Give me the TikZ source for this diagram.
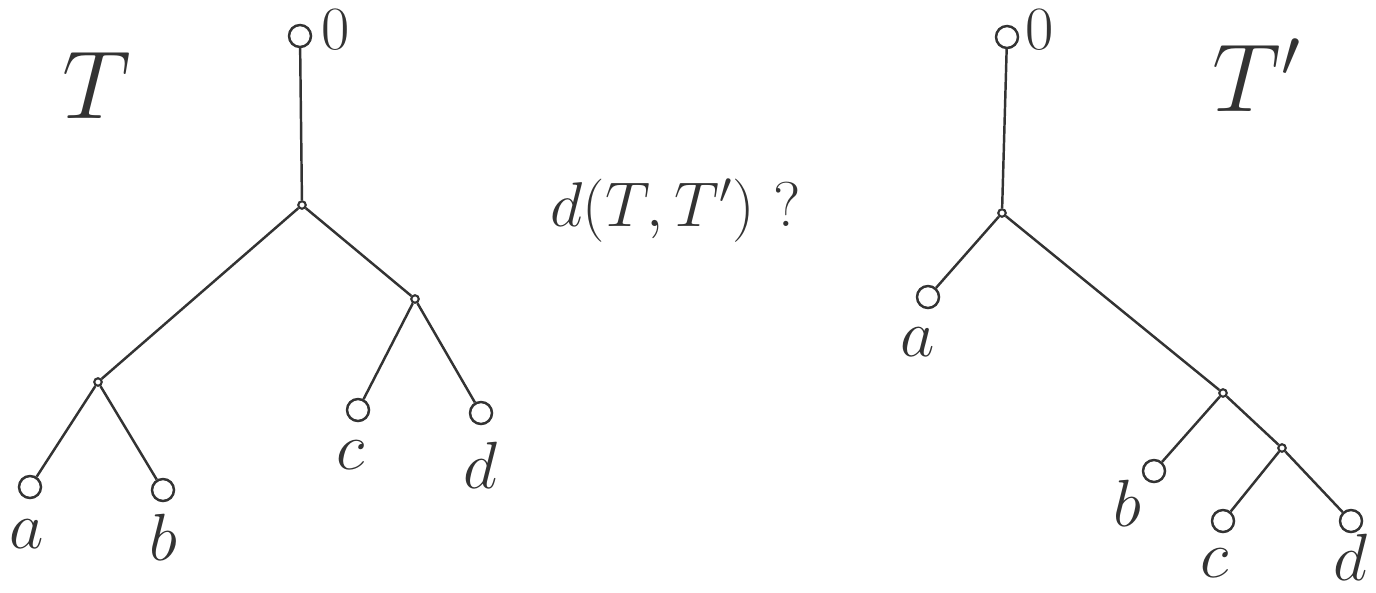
\documentclass[tikz,border=0pt]{standalone}
\usepackage{fix-cm}
\usepackage{tikz}
\usetikzlibrary{positioning}
\definecolor{EdgeGray}{RGB}{51, 51, 51}

\begin{document}
\begin{tikzpicture}[
        x=0.02cm, y=-0.02cm,
        leaf/.style={
          circle,
          draw=EdgeGray,
          line width=1.4pt,
          fill=white,
          inner sep=0pt,
          minimum size=0.44cm
        },
        inner/.style={
          circle,
          draw=EdgeGray,
          line width=1.2pt,
          fill=white,
          inner sep=0pt,
          minimum size=0.15cm
        },
        edge/.style={draw=EdgeGray, line width=1.4pt},
        lbl/.style={text=EdgeGray, inner sep=0pt, font=\fontsize{38}{40}\selectfont},
        tname/.style={text=EdgeGray, inner sep=0pt, font=\fontsize{55}{60}\selectfont}
      ]
        \useasboundingbox (0, 0) rectangle (1376, 592);

        % tree T
        \node (rootT) at (300, 36)  [leaf] {};
        \node (uT)    at (302, 205) [inner] {};
        \node (vT)    at (98, 382)  [inner] {};
        \node (wT)    at (415, 299) [inner] {};
        \node (aT)    at (30, 487)  [leaf] {};
        \node (bT)    at (163, 490) [leaf] {};
        \node (cT)    at (358, 410) [leaf] {};
        \node (dT)    at (481, 413) [leaf] {};

        \draw[edge] (rootT) -- (uT);
        \draw[edge] (uT) -- (vT);
        \draw[edge] (uT) -- (wT);
        \draw[edge] (vT) -- (aT);
        \draw[edge] (vT) -- (bT);
        \draw[edge] (wT) -- (cT);
        \draw[edge] (wT) -- (dT);

        \node (zeroT) at (336, 30)  [lbl, font=\fontsize{35}{40}\selectfont] {$0$};
        \node (laT)   at (27, 534)  [lbl] {$a$};
        \node (lbT)   at (163, 537) [lbl] {$b$};
        \node (lcT)   at (351, 455) [lbl] {$c$};
        \node (ldT)   at (480, 465) [lbl] {$d$};
        \node (nameT) at (97, 85)   [tname] {$T$};

        % tree T'
        \node (rootS) at (1007, 37)  [leaf] {};
        \node (uS)    at (1002, 213) [inner] {};
        \node (vS)    at (1223, 393) [inner] {};
        \node (wS)    at (1282, 448) [inner] {};
        \node (aS)    at (928, 297)  [leaf] {};
        \node (bS)    at (1154, 471) [leaf] {};
        \node (cS)    at (1223, 521) [leaf] {};
        \node (dS)    at (1351, 521) [leaf] {};

        \draw[edge] (rootS) -- (uS);
        \draw[edge] (uS) -- (aS);
        \draw[edge] (uS) -- (vS);
        \draw[edge] (vS) -- (bS);
        \draw[edge] (vS) -- (wS);
        \draw[edge] (wS) -- (cS);
        \draw[edge] (wS) -- (dS);

        \node (zeroS) at (1040, 30)  [lbl, font=\fontsize{35}{40}\selectfont] {$0$};
        \node (laS)   at (918, 342)  [lbl] {$a$};
        \node (lbS)   at (1127, 503) [lbl] {$b$};
        \node (lcS)   at (1215, 563) [lbl] {$c$};
        \node (ldS)   at (1350, 557) [lbl] {$d$};
        \node (nameS) at (1257, 75)  [tname] {$T'$};

        % question
        \node (dist)  at (676, 211) [lbl, font=\fontsize{36}{40}\selectfont] {$d(T,T')$ ?};
      \end{tikzpicture}
\end{document}
